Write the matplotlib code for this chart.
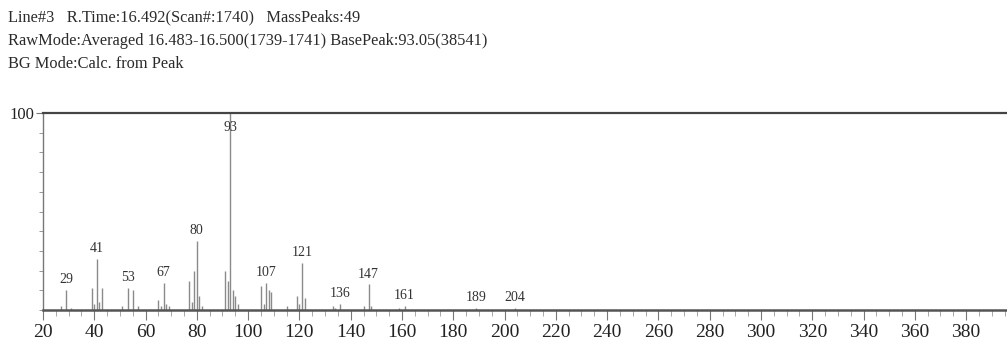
import matplotlib
matplotlib.use('Agg')
import matplotlib.pyplot as plt
from matplotlib.ticker import MultipleLocator

# header text of the instrument printout
header = [
    "Line#3   R.Time:16.492(Scan#:1740)   MassPeaks:49",
    "RawMode:Averaged 16.483-16.500(1739-1741) BasePeak:93.05(38541)",
    "BG Mode:Calc. from Peak",
]

# m/z and relative intensity (%)
mz = [27, 29, 31, 39, 40, 41, 42, 43, 51, 53, 55, 57, 65, 66, 67, 68, 69,
      77, 78, 79, 80, 81, 82, 91, 92, 93, 94, 95, 96, 105, 106, 107, 108, 109,
      115, 119, 120, 121, 122, 133, 134, 136, 145, 147, 148, 159, 161, 189, 204]
intensity = [2, 10, 1, 11, 3, 26, 4, 11, 2, 11, 10, 2, 5, 2, 14, 3, 2,
             15, 4, 20, 35, 7, 2, 20, 15, 100, 10, 7, 3, 12, 3, 14, 10, 9,
             2, 7, 3, 24, 6, 2, 1, 3, 2, 13, 2, 1, 2, 1, 1]

# peaks that get an m/z label
labelled = [29, 41, 53, 67, 80, 93, 107, 121, 136, 147, 161, 189, 204]

plt.rcParams['font.family'] = ['Liberation Serif', 'DejaVu Serif']

fig = plt.figure(figsize=(10.07, 3.52), dpi=100)
ax = fig.add_axes([0.0427, 0.119, 0.96, 0.56])

ax.vlines(mz, 0, intensity, color='#8a8a8a', linewidth=1.0)

for m, v in zip(mz, intensity):
    if m in labelled:
        if v >= 90:
            ax.text(m, v - 4, str(m), ha='center', va='top', fontsize=10,
                    color='#333333')
        else:
            ax.text(m, v + 2, str(m), ha='center', va='bottom', fontsize=10,
                    color='#333333')

ax.set_xlim(20, 397)
ax.set_ylim(0, 100)

ax.spines['right'].set_visible(False)
ax.spines['top'].set_color('#444444')
ax.spines['top'].set_linewidth(1.6)
ax.spines['bottom'].set_color('#555555')
ax.spines['bottom'].set_linewidth(1.8)
ax.spines['left'].set_color('#777777')
ax.spines['left'].set_linewidth(1.0)

ax.xaxis.set_major_locator(MultipleLocator(20))
ax.xaxis.set_minor_locator(MultipleLocator(5))
ax.tick_params(axis='x', which='major', length=7, color='#777777',
               labelsize=14, pad=3, labelcolor='#222222')
ax.tick_params(axis='x', which='minor', length=4, color='#999999')

ax.set_yticks([100])
ax.set_yticklabels(['100'])
ax.yaxis.set_minor_locator(MultipleLocator(10))
ax.tick_params(axis='y', which='major', length=5, color='#777777',
               labelsize=12, pad=1, labelcolor='#222222')
ax.tick_params(axis='y', which='minor', length=3, color='#888888')

for i, line in enumerate(header):
    fig.text(0.008, 0.95 - i * 0.066, line, fontsize=11.8, color='#2a2a2a',
             ha='left', va='center')

fig.savefig('out.png', dpi=100, facecolor='white')
